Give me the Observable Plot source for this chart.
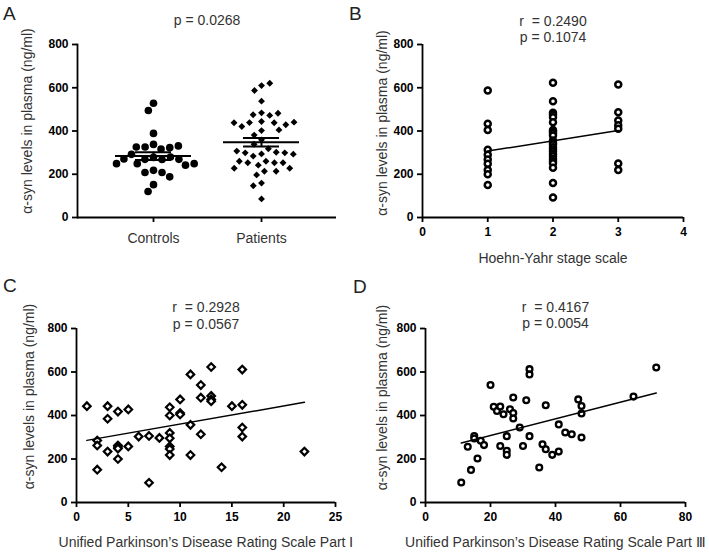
<!DOCTYPE html>
<html><head><meta charset="utf-8">
<script src="https://cdn.jsdelivr.net/npm/d3@7"></script>
<script src="https://cdn.jsdelivr.net/npm/@observablehq/plot@0.6"></script>
<style>
body{margin:0;background:#fff;}
#wrap{position:relative;width:709px;height:553px;overflow:hidden;font-family:"Liberation Sans",Arial,Helvetica,sans-serif;}
.panel{position:absolute;}
.letter{position:absolute;font-size:19px;line-height:19px;color:#222;}
</style></head><body><div id="wrap"></div>
<script>
// ---------- data ----------
const groups = ["Controls", "Patients"];
const controls = [528, 495, 389, 338, 326, 317, 323, 326, 331, 278, 269, 268, 280, 292, 269, 271, 249, 242, 249, 249, 218, 208, 208, 188, 152, 120];
const patients = [610, 587, 621, 538, 484, 475, 472, 482, 444, 439, 438, 421, 402, 405, 429, 438, 441, 381, 359, 339, 294, 318, 284, 302, 299, 299, 307, 293, 260, 253, 253, 253, 260, 242, 228, 214, 197, 214, 228, 159, 147, 86];

const hyStage = [1,1,1,1,1,1,1,1,1,1, 2,2,2,2,2,2,2,2,2,2,2,2,2,2,2,2,2,2,2,2,2,2,2,2, 3,3,3,3,3,3,3];
const hyLevel = [587,433,405,313,290,268,248,220,200,150, 623,538,484,475,464,441,405,398,390,379,356,345,337,325,314,305,294,283,271,260,251,230,159,92, 615,487,449,427,410,250,220];

const upd1Score = [1, 2,2,2, 3,3,3, 4,4,4,4,4, 5,5, 6, 7,7, 8, 9,9,9,9,9,9,9, 10,10,10, 11,11,11, 12,12,12, 13,13,13,13, 14, 15, 16,16,16,16, 22];
const upd1Level = [443, 285,262,151, 443,385,234, 418,262,255,248,200, 428,258, 303, 306,91, 297, 438,400,320,295,258,246,218, 474,411,405, 589,357,218, 540,482,314, 623,490,474,466, 162, 443, 611,449,345,303, 234];

const upd3Score = [11,14,13,15,15,16,17,18,20,21,22,23,24,23,25,25,25,26,27,27,27,29,30,31,32,32,32,35,36,37,37,39,41,41,43,45,47,48,48,48,64,71];
const upd3Level = [92,150,256,306,294,202,284,264,540,440,421,441,406,260,305,238,219,429,411,483,386,345,260,470,613,589,305,161,268,447,245,219,359,234,322,314,474,444,409,299,487,621];

const yTicks = [0, 200, 400, 600, 800];
const hyTicks = [0, 1, 2, 3, 4];
const upd1Ticks = [0, 5, 10, 15, 20, 25];
const upd3Ticks = [0, 20, 40, 60, 80];

const yLabel = "α-syn levels in plasma (ng/ml)";
const titleA = ["p = 0.0268"];
const titleB = ["r\u00a0\u00a0= 0.2490", "p = 0.1074"];
const titleC = ["r\u00a0\u00a0= 0.2928", "p = 0.0567"];
const titleD = ["r\u00a0\u00a0= 0.4167", "p = 0.0054"];

// ---------- helpers ----------
const FONT = '"Liberation Sans", Arial, Helvetica, sans-serif';
const style = {fontFamily: FONT, fontSize: "12px", background: "transparent", overflow: "visible", color: "black"};
const wrap = document.getElementById("wrap");
function place(el, left, top) {
  const d = document.createElement("div");
  d.className = "panel"; d.style.left = left + "px"; d.style.top = top + "px";
  d.appendChild(el); wrap.appendChild(d);
}
function letter(t, left, top) {
  const d = document.createElement("div");
  d.className = "letter"; d.textContent = t; d.style.left = left + "px"; d.style.top = top + "px";
  wrap.appendChild(d);
}
const AX = 1.8;
function yAxis() {
  return Plot.axisY({ticks: yTicks, tickFormat: "d", tickSize: 5, tickPadding: 4, fontWeight: "bold", fontSize: 12, strokeWidth: AX, label: null});
}
function yLab(dx, dy) {
  return Plot.text([yLabel], {frameAnchor: "left", rotate: -90, dx, dy, fontSize: 14, fill: "#333", textAnchor: "middle", lineAnchor: "middle"});
}
function titleMarks(lines, dys) {
  return lines.map((t, i) => Plot.text([t], {frameAnchor: "top", dy: dys[i], fontSize: 14, fill: "#333", textAnchor: "middle", lineAnchor: "middle"}));
}
function stats(name, vals) {
  const m = d3.mean(vals), se = d3.deviation(vals) / Math.sqrt(vals.length);
  return {group: name, mean: m, lo: m - se, hi: m + se};
}

// ---------- Panel A ----------
const dimsA = {width: 355, height: 275, marginLeft: 77, marginRight: 19, marginTop: 44, marginBottom: 58};
const bandA = {domain: groups, paddingInner: 0.3, paddingOuter: 0.34};
const st = [stats("Controls", controls), stats("Patients", patients)];
const ctrlData = controls.map(v => ({group: "Controls", value: v}));
const patData = patients.map(v => ({group: "Patients", value: v}));

const A1 = Plot.plot({
  ...dimsA, style,
  x: {...bandA},
  y: {domain: [0, 800]},
  marks: [
    Plot.ruleY([0], {strokeWidth: AX}),
    Plot.frame({anchor: "left", strokeWidth: AX}),
    yAxis(),
    Plot.axisX({tickSize: 5, tickPadding: 11, fontSize: 14, fill: "#333", strokeWidth: AX, label: null}),
    Plot.tickY(st, {x: "group", y: "mean", strokeWidth: 2}),
    Plot.tickY(st, {x: "group", y: "lo", strokeWidth: 2, insetLeft: 20, insetRight: 20}),
    Plot.tickY(st, {x: "group", y: "hi", strokeWidth: 2, insetLeft: 20, insetRight: 20}),
    Plot.ruleX(st, {x: "group", y1: "lo", y2: "hi", strokeWidth: 2}),
    yLab(-50, -10),
    ...titleMarks(titleA, [-24])
  ]
});
const A2 = Plot.plot({
  ...dimsA, style,
  fx: {...bandA, axis: null, label: null},
  y: {domain: [0, 800], axis: null},
  marks: [
    Plot.dot(ctrlData, Plot.dodgeX({anchor: "middle", padding: 1.2}, {fx: "group", y: "value", r: 3.8, fill: "black", stroke: "none"})),
    Plot.dot(patData, Plot.dodgeX({anchor: "middle", padding: 2.4}, {fx: "group", y: "value", r: 3.1, symbol: "diamond2", fill: "black", stroke: "none"}))
  ]
});
place(A1, 0, 0);
place(A2, 0, 0);

// ---------- scatter panels ----------
function scatter(o) {
  const data = o.xs.map((v, i) => ({x: v, y: o.ys[i]}));
  return Plot.plot({
    width: o.width, height: o.height, marginLeft: o.mL, marginRight: o.mR, marginTop: o.mT, marginBottom: o.mB,
    style,
    x: {domain: o.xDomain},
    y: {domain: [0, 800]},
    marks: [
      Plot.ruleY([0], {strokeWidth: AX}),
      Plot.ruleX([o.xDomain[0]], {strokeWidth: AX}),
      yAxis(),
      Plot.axisX({ticks: o.xTicks, tickFormat: "d", tickSize: 5, tickPadding: 5, fontWeight: "bold", fontSize: 12, strokeWidth: AX, label: null}),
      Plot.dot(data, {x: "x", y: "y", r: o.r, symbol: o.symbol, fill: "white", stroke: "black", strokeWidth: o.sw}),
      Plot.linearRegressionY(data, {x: "x", y: "y", ci: 0, stroke: "black", strokeWidth: 1.5}),
      Plot.text([o.xLabel], {frameAnchor: "bottom", dy: o.xLabDy, fontSize: 14, fill: "#333", textAnchor: "middle", lineAnchor: "middle"}),
      yLab(o.yLabDx, o.yLabDy),
      ...titleMarks(o.title, o.titleDy)
    ]
  });
}

const B = scatter({xs: hyStage, ys: hyLevel, xDomain: [0, 4], xTicks: hyTicks, width: 354, height: 275, mL: 67, mR: 26, mT: 44, mB: 58,
  r: 3, sw: 2.5, symbol: "circle", xLabel: "Hoehn-Yahr stage scale", xLabDy: 41, yLabDx: -40, yLabDy: -8, title: titleB, titleDy: [-23, -7]});
place(B, 355, 0);

const C = scatter({xs: upd1Score, ys: upd1Level, xDomain: [0, 25], xTicks: upd1Ticks, width: 355, height: 278, mL: 76, mR: 20, mT: 53, mB: 51,
  r: 3.4, sw: 2.2, symbol: "diamond2", xLabel: "Unified Parkinson\u2019s Disease Rating Scale Part \u2160", xLabDy: 40, yLabDx: -47, yLabDy: -19, title: titleC, titleDy: [-21, -4]});
place(C, 0, 275);

const D = scatter({xs: upd3Score, ys: upd3Level, xDomain: [0, 80], xTicks: upd3Ticks, width: 354, height: 278, mL: 70, mR: 24, mT: 53, mB: 51,
  r: 2.9, sw: 2.3, symbol: "circle", xLabel: "Unified Parkinson\u2019s Disease Rating Scale Part \u2162", xLabDy: 40, yLabDx: -43, yLabDy: -18, title: titleD, titleDy: [-21, -5]});
place(D, 355, 275);

letter("A", 3, 4);
letter("B", 349, 4);
letter("C", 3, 276);
letter("D", 353, 277);
</script></body></html>
